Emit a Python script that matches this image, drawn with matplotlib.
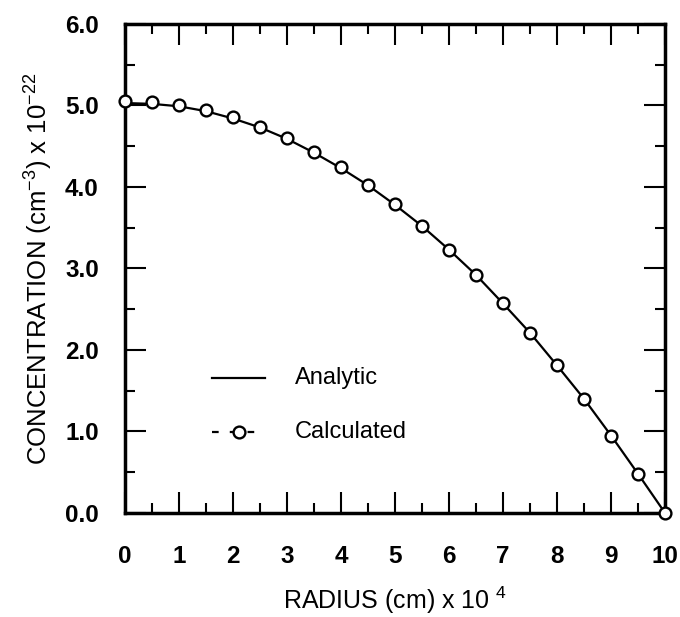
import matplotlib.pyplot as plt
from matplotlib.ticker import MultipleLocator

plt.rcParams['font.family'] = ['Liberation Sans', 'DejaVu Sans']
plt.rcParams['mathtext.fontset'] = 'custom'
plt.rcParams['mathtext.rm'] = 'Liberation Sans'

# analytic curve
radius_line = [0, 0.5, 1, 1.5, 2, 2.5, 3, 3.5, 4, 4.5, 5, 5.5, 6, 6.5, 7, 7.5, 8, 8.5, 9, 9.5, 10]
conc_line = [5.03, 5.02, 4.99, 4.93, 4.84, 4.73, 4.59, 4.42, 4.23, 4.02, 3.78, 3.52, 3.23, 2.92, 2.57, 2.21, 1.81, 1.40, 0.95, 0.48, 0.0]

# calculated points
radius_pts = [0, 0.5, 1, 1.5, 2, 2.5, 3, 3.5, 4, 4.5, 5, 5.5, 6, 6.5, 7, 7.5, 8, 8.5, 9, 9.5, 10]
conc_pts = [5.06, 5.04, 5.01, 4.95, 4.86, 4.74, 4.60, 4.43, 4.24, 4.03, 3.79, 3.52, 3.23, 2.92, 2.58, 2.21, 1.82, 1.40, 0.95, 0.48, 0.0]

fig = plt.figure(figsize=(6.8, 6.17), dpi=100)
ax = fig.add_axes([0.184, 0.1686, 0.794, 0.7925])

ax.plot(radius_line, conc_line, color="black", linewidth=1.6, clip_on=False)
ax.plot(radius_pts, conc_pts, linestyle="none", marker="o", markersize=8.5,
        markerfacecolor="white", markeredgecolor="black", markeredgewidth=1.7,
        clip_on=False, zorder=3)

# legend drawn by hand in data space
ax.plot([1.6, 2.6], [1.66, 1.66], color="black", linewidth=1.6)
ax.text(3.15, 1.66, "Analytic", fontsize=17, va="center", ha="left")
ax.plot([1.6, 2.6], [0.99, 0.99], color="black", linewidth=1.6, linestyle=(0, (3, 5)))
ax.plot([2.1], [0.99], marker="o", markersize=8.5, markerfacecolor="white",
        markeredgecolor="black", markeredgewidth=1.7)
ax.text(3.15, 0.99, "Calculated", fontsize=17, va="center", ha="left")

ax.set_xlim(0, 10)
ax.set_ylim(0, 6)
ax.xaxis.set_major_locator(MultipleLocator(1))
ax.xaxis.set_minor_locator(MultipleLocator(0.5))
ax.yaxis.set_major_locator(MultipleLocator(1))
ax.yaxis.set_minor_locator(MultipleLocator(0.5))
ax.yaxis.set_major_formatter(plt.FormatStrFormatter("%.1f"))

ax.tick_params(which="both", direction="in", top=True, right=True, width=1.5)
ax.tick_params(which="major", length=15, labelsize=17.5)
ax.tick_params(which="minor", length=7)
ax.tick_params(axis="x", which="major", pad=23)
ax.tick_params(axis="y", which="major", pad=19)
for lab in ax.get_xticklabels() + ax.get_yticklabels():
    lab.set_fontweight("bold")
for sp in ax.spines.values():
    sp.set_linewidth(2.5)

ax.set_xlabel("RADIUS (cm) x 10 $^{4}$", fontsize=18, labelpad=12)
ax.set_ylabel("CONCENTRATION (cm$^{-3}$) x 10$^{-22}$", fontsize=18.5, labelpad=8)

fig.savefig("out.png", dpi=100)
